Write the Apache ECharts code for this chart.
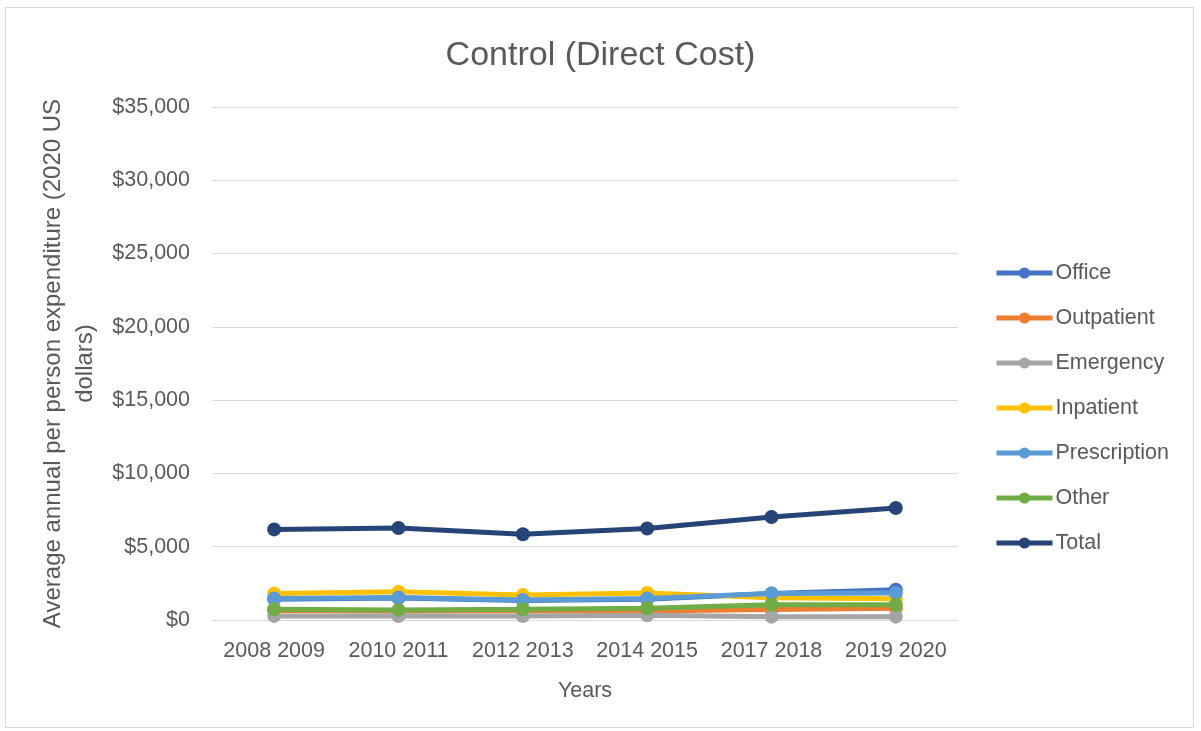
<!DOCTYPE html>
<html><head><meta charset="utf-8">
<script src="https://cdn.jsdelivr.net/npm/echarts@6/dist/echarts.min.js"></script>
<style>html,body{margin:0;padding:0;background:#fff}#c{width:1201px;height:731px}
#frame{position:absolute;left:5px;top:7px;width:1189px;height:721px;border:1px solid #d9d9d9;box-sizing:border-box;pointer-events:none}</style>
</head><body><div id="c"></div><div id="frame"></div>
<script>
const categories = ["2008 2009","2010 2011","2012 2013","2014 2015","2017 2018","2019 2020"];
const office       = [1420, 1500, 1330, 1420, 1800, 2070];
const outpatient   = [650, 620, 650, 620, 720, 800];
const emergency    = [280, 270, 270, 320, 230, 230];
const inpatient    = [1800, 1920, 1700, 1850, 1520, 1450];
const prescription = [1470, 1540, 1360, 1470, 1810, 1850];
const other        = [740, 690, 730, 800, 1040, 1040];
const total        = [6180, 6280, 5850, 6240, 7030, 7640];
const yTicks = [0, 5000, 10000, 15000, 20000, 25000, 30000, 35000];

const names = ["Office","Outpatient","Emergency","Inpatient","Prescription","Other","Total"];
const colors = ["#4472C4","#ED7D31","#A5A5A5","#FFC000","#5B9BD5","#70AD47","#264478"];
const data = [office, outpatient, emergency, inpatient, prescription, other, total];
const font = "Liberation Sans, Arial, sans-serif";

const chart = echarts.init(document.getElementById('c'));
chart.setOption({
  animation: false,
  color: colors,
  title: { text: "Control (Direct Cost)", left: 'center', top: 34,
    textStyle: { fontFamily: font, fontSize: 34, fontWeight: 'normal', color: '#595959' } },
  grid: { left: 212, right: 243, top: 107, bottom: 111 },
  legend: { orient: 'vertical', left: 989, top: 257, itemWidth: 56, itemHeight: 14, itemGap: 23,
    lineStyle: { width: 5 },
    textStyle: { fontFamily: font, fontSize: 21.5, color: '#595959', padding: [0, 0, 0, -2] }, data: names },
  xAxis: { type: 'category', data: categories, boundaryGap: true,
    name: 'Years', nameLocation: 'middle', nameGap: 60,
    nameTextStyle: { fontFamily: font, fontSize: 21.5, color: '#595959' },
    axisLine: { show: false }, axisTick: { show: false },
    axisLabel: { fontFamily: font, fontSize: 21.5, color: '#595959', margin: 20, interval: 0 } },
  yAxis: { type: 'value', min: yTicks[0], max: yTicks[yTicks.length-1], interval: 5000,
    name: 'Average annual per person expenditure (2020 US\ndollars)', nameLocation: 'middle', nameGap: 100,
    nameTextStyle: { fontFamily: font, fontSize: 24, color: '#595959', lineHeight: 32, padding: [0, 0, 0, 0] },
    axisLine: { show: false }, axisTick: { show: false },
    splitLine: { lineStyle: { color: '#d9d9d9', width: 1 } },
    axisLabel: { fontFamily: font, fontSize: 21.5, color: '#595959', margin: 22,
      formatter: v => '$' + v.toLocaleString('en-US') } },
  series: names.map((n, i) => ({
    name: n, type: 'line', data: data[i], symbol: 'circle', symbolSize: 14,
    lineStyle: { width: 5, color: colors[i] }, itemStyle: { color: colors[i] }
  }))
});
</script></body></html>
